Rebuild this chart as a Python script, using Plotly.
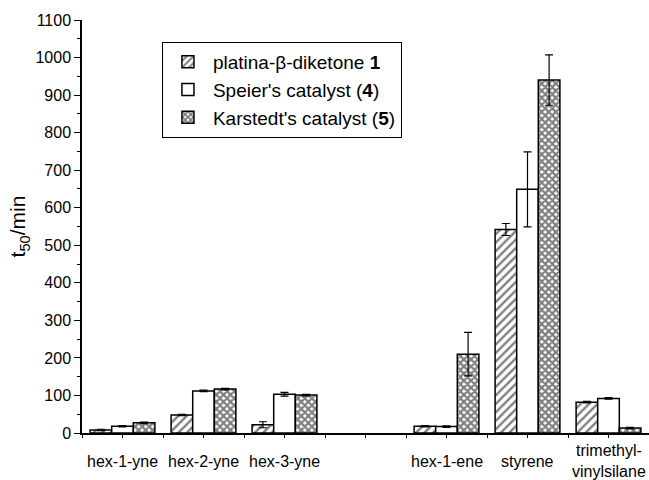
import plotly.graph_objects as go

# ---- data ----
categories = ["hex-1-yne", "hex-2-yne", "hex-3-yne", "hex-1-ene", "styrene", "trimethyl-<br>vinylsilane"]
positions = [1, 2, 3, 5, 6, 7]

platina = [8, 48, 22, 18, 542, 82]
platina_err = [2, 2, 8, 2, 16, 2]
speier = [18, 112, 103, 17, 649, 92]
speier_err = [2, 2, 5, 2, 100, 2]
karstedt = [27, 117, 101, 210, 940, 13]
karstedt_err = [2, 2, 2, 58, 67, 2]

series_names = ["platina-β-diketone <b>1</b>", "Speier's catalyst (<b>4</b>)", "Karstedt's catalyst (<b>5</b>)"]
y_ticks = list(range(0, 1101, 100))

FONT = "Liberation Sans, Arial, sans-serif"

fig = go.Figure()
specs = [
    (platina, platina_err, "/", 0.4, 6),
    (speier, speier_err, "", 0, 6),
    (karstedt, karstedt_err, "x", 0.7, 5),
]
for name, (vals, errs, shape, sol, sz) in zip(series_names, specs):
    fig.add_trace(go.Bar(
        x=positions, y=vals, name=name,
        marker=dict(color="white",
                    line=dict(color="black", width=1.5),
                    pattern=dict(shape=shape, fgcolor="black", bgcolor="white",
                                 size=sz, solidity=sol)),
        error_y=dict(type="data", array=errs, visible=True,
                     color="black", thickness=1.2, width=4),
    ))

for p, c in zip(positions, categories):
    fig.add_annotation(x=p, y=-0.068, xref="x", yref="paper", text=c, showarrow=False,
                       yanchor="middle", xanchor="center",
                       font=dict(family=FONT, size=16, color="black"))

fig.update_layout(
    width=649, height=480,
    margin=dict(l=82, r=0, t=20, b=47),
    paper_bgcolor="white", plot_bgcolor="white",
    barmode="group", bargap=0.2, bargroupgap=0,
    font=dict(family=FONT, size=16, color="black"),
    showlegend=True,
    legend=dict(x=0.141, y=0.947, xanchor="left", yanchor="top",
                bgcolor="white", bordercolor="black", borderwidth=1,
                font=dict(family=FONT, size=19, color="black"),
                tracegroupgap=0, itemwidth=40),
    xaxis=dict(range=[0.5, 7.5], showline=True, linecolor="black", linewidth=1.5,
               tickmode="linear", tick0=0.5, dtick=0.5, ticks="outside", ticklen=3,
               tickcolor="black", showticklabels=False, showgrid=False, zeroline=False,
               automargin=False),
    yaxis=dict(range=[0, 1100], showline=True, linecolor="black", linewidth=1.5,
               tickvals=y_ticks, ticks="outside", ticklen=6, tickcolor="black",
               minor=dict(dtick=50, ticks="outside", ticklen=3, tickcolor="black"),
               showgrid=False, zeroline=False, automargin=False,
               tickfont=dict(family=FONT, size=16, color="black"),
               title=dict(text="t<sub>50</sub>/min", standoff=4,
                          font=dict(family=FONT, size=21, color="black"))),
)

fig.write_html("out.html", config={"displayModeBar": False},
               post_script="document.body.style.margin='0';")
